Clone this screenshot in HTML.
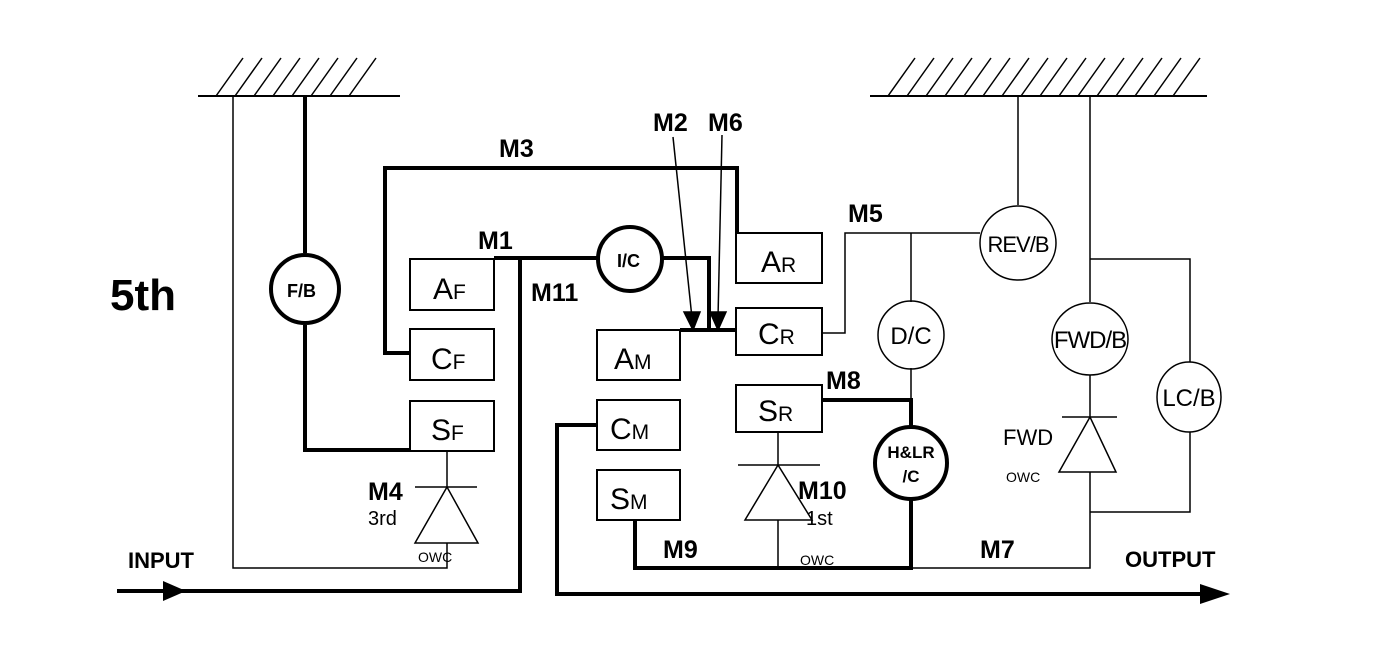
<!DOCTYPE html>
<html><head><meta charset="utf-8"><style>
html,body{margin:0;padding:0;background:#fff;}
svg{display:block;}
text{font-family:"Liberation Sans",sans-serif;fill:#000;}
.b{font-weight:bold;}
</style></head><body>
<svg width="1376" height="658" viewBox="0 0 1376 658" xmlns="http://www.w3.org/2000/svg">
<g stroke="#000" fill="none" stroke-width="1.5">
<!-- left ground -->
<line x1="198" y1="96" x2="400" y2="96" stroke-width="2"/>
<g stroke-width="1.5">
<line x1="216" y1="96" x2="243" y2="58"/><line x1="235" y1="96" x2="262" y2="58"/>
<line x1="254" y1="96" x2="281" y2="58"/><line x1="273" y1="96" x2="300" y2="58"/>
<line x1="292" y1="96" x2="319" y2="58"/><line x1="311" y1="96" x2="338" y2="58"/>
<line x1="330" y1="96" x2="357" y2="58"/><line x1="349" y1="96" x2="376" y2="58"/>
</g>
<!-- right ground -->
<line x1="870" y1="96" x2="1207" y2="96" stroke-width="2"/>
<g>
<line x1="888" y1="96" x2="915" y2="58"/><line x1="907" y1="96" x2="934" y2="58"/>
<line x1="926" y1="96" x2="953" y2="58"/><line x1="945" y1="96" x2="972" y2="58"/>
<line x1="964" y1="96" x2="991" y2="58"/><line x1="983" y1="96" x2="1010" y2="58"/>
<line x1="1002" y1="96" x2="1029" y2="58"/><line x1="1021" y1="96" x2="1048" y2="58"/>
<line x1="1040" y1="96" x2="1067" y2="58"/><line x1="1059" y1="96" x2="1086" y2="58"/>
<line x1="1078" y1="96" x2="1105" y2="58"/><line x1="1097" y1="96" x2="1124" y2="58"/>
<line x1="1116" y1="96" x2="1143" y2="58"/><line x1="1135" y1="96" x2="1162" y2="58"/>
<line x1="1154" y1="96" x2="1181" y2="58"/><line x1="1173" y1="96" x2="1200" y2="58"/>
</g>

<!-- thick lines -->
<g stroke-width="4">
<line x1="305" y1="96" x2="305" y2="253"/>
<polyline points="305,325 305,450 410,450"/>
<polyline points="410,353 385,353 385,168 737,168 737,233"/>
<polyline points="494,258 598,258"/>
<polyline points="520,258 520,591 117,591"/>
<polyline points="662,258 709,258 709,330"/>
<polyline points="680,330 736,330"/>
<polyline points="822,400 911,400 911,427"/>
<polyline points="911,499 911,568 635,568 635,520"/>
<polyline points="597,425 557,425 557,594 1210,594"/>
<circle cx="305" cy="289" r="34"/>
<circle cx="630" cy="259" r="32"/>
<circle cx="911" cy="463" r="36"/>
</g>
<!-- arrows -->
<polygon points="163,581 186,591 163,601" fill="#000" stroke="none"/>
<polygon points="1200,584 1230,594 1200,604" fill="#000" stroke="none"/>

<!-- thin lines -->
<polyline points="233,96 233,568 447,568 447,543"/>
<line x1="447" y1="451" x2="447" y2="487"/>
<line x1="415" y1="487" x2="477" y2="487"/>
<polygon points="447,487 415,543 478,543"/>
<line x1="673" y1="137" x2="692" y2="318"/>
<line x1="722" y1="135" x2="718" y2="318"/>
<polygon points="684,312 700,312 693,330" fill="#000"/>
<polygon points="710,312 726,312 718,330" fill="#000"/>
<polyline points="822,333 845,333 845,233 980,233"/>
<line x1="911" y1="233" x2="911" y2="302"/>
<line x1="911" y1="368" x2="911" y2="400"/>
<line x1="1018" y1="96" x2="1018" y2="205"/>
<ellipse cx="1018" cy="243" rx="38" ry="37"/>
<ellipse cx="911" cy="335" rx="33" ry="34"/>
<line x1="1090" y1="96" x2="1090" y2="302"/>
<polyline points="1090,259 1190,259 1190,362"/>
<ellipse cx="1090" cy="339" rx="38" ry="36"/>
<ellipse cx="1189" cy="397" rx="32" ry="35"/>
<line x1="1090" y1="375" x2="1090" y2="417"/>
<line x1="1062" y1="417" x2="1117" y2="417"/>
<polygon points="1090,417 1059,472 1116,472"/>
<polyline points="1090,472 1090,568 911,568"/>
<polyline points="1090,512 1190,512 1190,432"/>
<line x1="778" y1="432" x2="778" y2="465"/>
<line x1="738" y1="465" x2="820" y2="465"/>
<polygon points="778,465 745,520 812,520"/>
<line x1="778" y1="520" x2="778" y2="568"/>

<!-- boxes -->
<g stroke-width="2">
<rect x="410" y="259" width="84" height="51"/>
<rect x="410" y="329" width="84" height="51"/>
<rect x="410" y="401" width="84" height="50"/>
<rect x="597" y="330" width="83" height="50"/>
<rect x="597" y="400" width="83" height="50"/>
<rect x="597" y="470" width="83" height="50"/>
<rect x="736" y="233" width="86" height="50"/>
<rect x="736" y="308" width="86" height="47"/>
<rect x="736" y="385" width="86" height="47"/>
</g>
</g>

<!-- labels -->
<text x="110" y="310" font-size="44" class="b">5th</text>
<text x="287" y="297" font-size="18" class="b">F/B</text>
<text x="617" y="267" font-size="18" class="b">I/C</text>
<text x="911" y="458" font-size="17" class="b" text-anchor="middle">H&amp;LR</text>
<text x="911" y="482" font-size="17" class="b" text-anchor="middle">/C</text>
<text x="1018" y="252" font-size="22" text-anchor="middle" letter-spacing="-1">REV/B</text>
<text x="911" y="344" font-size="24" text-anchor="middle">D/C</text>
<text x="1090" y="348" font-size="24" text-anchor="middle" letter-spacing="-1">FWD/B</text>
<text x="1189" y="406" font-size="24" text-anchor="middle">LC/B</text>
<text x="1003" y="445" font-size="22">FWD</text>
<text x="1006" y="482" font-size="14">OWC</text>

<g font-size="30">
<text x="433" y="299">A<tspan font-size="21">F</tspan></text>
<text x="431" y="369">C<tspan font-size="21">F</tspan></text>
<text x="431" y="440">S<tspan font-size="21">F</tspan></text>
<text x="614" y="369">A<tspan font-size="21">M</tspan></text>
<text x="610" y="439">C<tspan font-size="21">M</tspan></text>
<text x="610" y="509">S<tspan font-size="21">M</tspan></text>
<text x="761" y="272">A<tspan font-size="21">R</tspan></text>
<text x="758" y="344">C<tspan font-size="21">R</tspan></text>
<text x="758" y="421">S<tspan font-size="21">R</tspan></text>
</g>

<g font-size="25" class="b">
<text x="499" y="157">M3</text>
<text x="478" y="249">M1</text>
<text x="531" y="301">M11</text>
<text x="653" y="131">M2</text>
<text x="708" y="131">M6</text>
<text x="848" y="222">M5</text>
<text x="826" y="389">M8</text>
<text x="368" y="500">M4</text>
<text x="798" y="499">M10</text>
<text x="663" y="558">M9</text>
<text x="980" y="558">M7</text>
</g>
<text x="368" y="525" font-size="20">3rd</text>
<text x="806" y="525" font-size="20">1st</text>
<text x="418" y="562" font-size="14">OWC</text>
<text x="800" y="565" font-size="14">OWC</text>
<text x="128" y="568" font-size="22" class="b">INPUT</text>
<text x="1125" y="567" font-size="22" class="b">OUTPUT</text>
</svg>
</body></html>
